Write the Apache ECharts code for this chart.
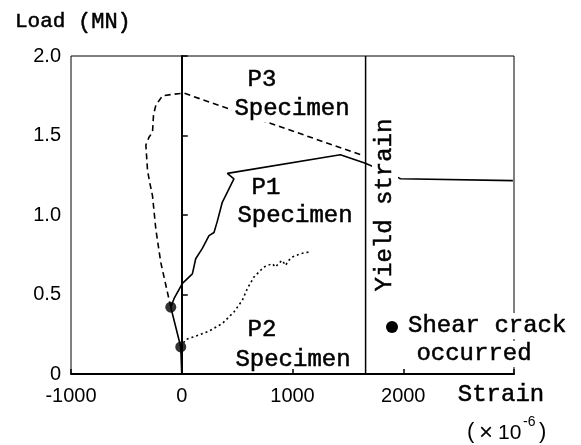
<!DOCTYPE html>
<html>
<head>
<meta charset="utf-8">
<script src="https://cdn.jsdelivr.net/npm/echarts@6/dist/echarts.min.js"></script>
<style>html,body{margin:0;background:#fff}#main{width:581px;height:445px}</style>
</head>
<body>
<div id="main"></div>
<script>
// tick labels
var strainTicks = [-1000, 0, 1000, 2000];
var loadTicks = [0, 0.5, 1.0, 1.5, 2.0];
var yieldStrain = 1660;

// P1 specimen (solid)
var p1Strain = [0, -9, -99, -69, 6, 96, 126, 186, 246, 291, 321, 336, 366, 381, 471, 412, 1432, 1448, 1658, 1955, 1975, 2990];
var p1Load = [0, 0.17, 0.42, 0.475, 0.57, 0.63, 0.725, 0.79, 0.87, 0.89, 0.96, 1.0, 1.08, 1.09, 1.227, 1.262, 1.379, 1.388, 1.325, 1.235, 1.228, 1.216];
// P2 specimen (dotted)
var p2Strain = [-9, 36, 126, 246, 367, 471, 547, 592, 652, 742, 817, 847, 877, 907, 937, 967, 997, 1072, 1147];
var p2Load = [0.17, 0.217, 0.238, 0.27, 0.318, 0.39, 0.464, 0.537, 0.61, 0.673, 0.694, 0.673, 0.698, 0.715, 0.683, 0.715, 0.735, 0.757, 0.767];
// P3 specimen (dashed)
var p3Strain = [-99, -144, -189, -234, -264, -288, -309, -324, -295, -264, -255, -234, -174, -69, 21, 1640];
var p3Load = [0.42, 0.56, 0.70, 0.91, 1.12, 1.20, 1.28, 1.44, 1.49, 1.52, 1.63, 1.69, 1.75, 1.76, 1.766, 1.373];
// shear crack points
var crackStrain = [-99, -9];
var crackLoad = [0.42, 0.17];

function pairs(xs, ys) {
  return xs.map(function (x, i) { return [x, ys[i]]; });
}

var myChart = echarts.init(document.getElementById('main'));
var mono = '"Liberation Mono", monospace';
var numFont = '"Liberation Sans", sans-serif';

function label(text, x, y, opts) {
  opts = opts || {};
  var isMono = !opts.family;
  return {
    type: 'text',
    x: x,
    y: y,
    z: 100,
    rotation: opts.rotation || 0,
    style: {
      text: text,
      font: (opts.size || 24) + 'px ' + (opts.family || mono),
      fill: '#000',
      stroke: isMono ? '#000' : null,
      lineWidth: isMono ? 0.5 : 0,
      align: opts.align || 'center',
      verticalAlign: 'middle',
      textAlign: opts.align || 'center',
      textVerticalAlign: 'middle',
      backgroundColor: opts.bg ? '#fff' : null,
      padding: opts.bg ? [1, 3] : 0
    }
  };
}

function lineSeries(data, type, width) {
  return {
    type: 'line',
    data: data,
    symbol: 'none',
    silent: true,
    lineStyle: { color: '#000', width: width || 1.5, type: type || 'solid' }
  };
}

var option = {
  animation: false,
  grid: {
    left: 71, top: 56, right: 67, bottom: 71,
    show: true,
    borderColor: '#000',
    borderWidth: 1
  },
  xAxis: {
    type: 'value',
    min: -1000,
    max: 3000,
    interval: 1000,
    axisLine: { lineStyle: { color: '#000', width: 2 } },
    axisTick: { inside: true, length: 5, lineStyle: { color: '#000', width: 1.5 } },
    splitLine: { show: false },
    axisLabel: {
      color: '#000',
      fontSize: 20,
      fontFamily: numFont,
      margin: 12,
      formatter: function (v) { return strainTicks.indexOf(v) >= 0 ? String(v) : ''; }
    }
  },
  yAxis: {
    type: 'value',
    min: 0,
    max: 2,
    interval: 0.5,
    axisLine: { lineStyle: { color: '#000', width: 2 } },
    axisTick: { inside: true, length: 6, lineStyle: { color: '#000', width: 1.5 } },
    splitLine: { show: false },
    axisLabel: {
      color: '#000',
      fontSize: 20,
      fontFamily: numFont,
      margin: 10,
      formatter: function (v) {
        if (loadTicks.indexOf(v) < 0) return '';
        return v === 0 ? '0' : v.toFixed(1);
      }
    }
  },
  series: [
    lineSeries([[0, 0], [0, 2]], 'solid', 1.5),
    lineSeries([[yieldStrain, 0], [yieldStrain, 2]], 'solid', 1.5),
    lineSeries(pairs(p1Strain, p1Load), 'solid', 1.6),
    lineSeries(pairs(p3Strain, p3Load), [6, 4], 1.6),
    lineSeries(pairs(p2Strain, p2Load), [2, 3], 1.6),
    {
      type: 'scatter',
      data: pairs(crackStrain, crackLoad),
      symbol: 'circle',
      symbolSize: 11,
      itemStyle: { color: '#000' },
      z: 5
    }
  ],
  graphic: [
    label('Load', 15, 21, { align: 'left', size: 21 }),
    label('(MN)', 78, 22, { align: 'left', size: 22 }),
    label('P3', 262, 80),
    label('Specimen', 292, 109, { bg: true }),
    label('P1', 266, 188),
    label('Specimen', 295, 216),
    label('P2', 262, 330),
    label('Specimen', 293, 360),
    label('Yield strain', 385, 205, { rotation: Math.PI / 2, bg: true }),
    { type: 'circle', z: 100, shape: { cx: 392, cy: 327, r: 6 }, style: { fill: '#000' } },
    label('Shear crack', 405, 326, { align: 'left', bg: true }),
    label('occurred', 474, 354, { bg: true }),
    label('Strain', 501, 395),
    label('(', 467, 432, { align: 'left', size: 22, family: numFont }),
    label('\u00d7', 486, 433, { size: 24, family: numFont }),
    label('10', 498, 433, { align: 'left', size: 21, family: numFont }),
    label('-6', 523, 422, { align: 'left', size: 14, family: numFont }),
    label(')', 539, 432, { align: 'left', size: 22, family: numFont })
  ]
};
myChart.setOption(option);
</script>
</body>
</html>
